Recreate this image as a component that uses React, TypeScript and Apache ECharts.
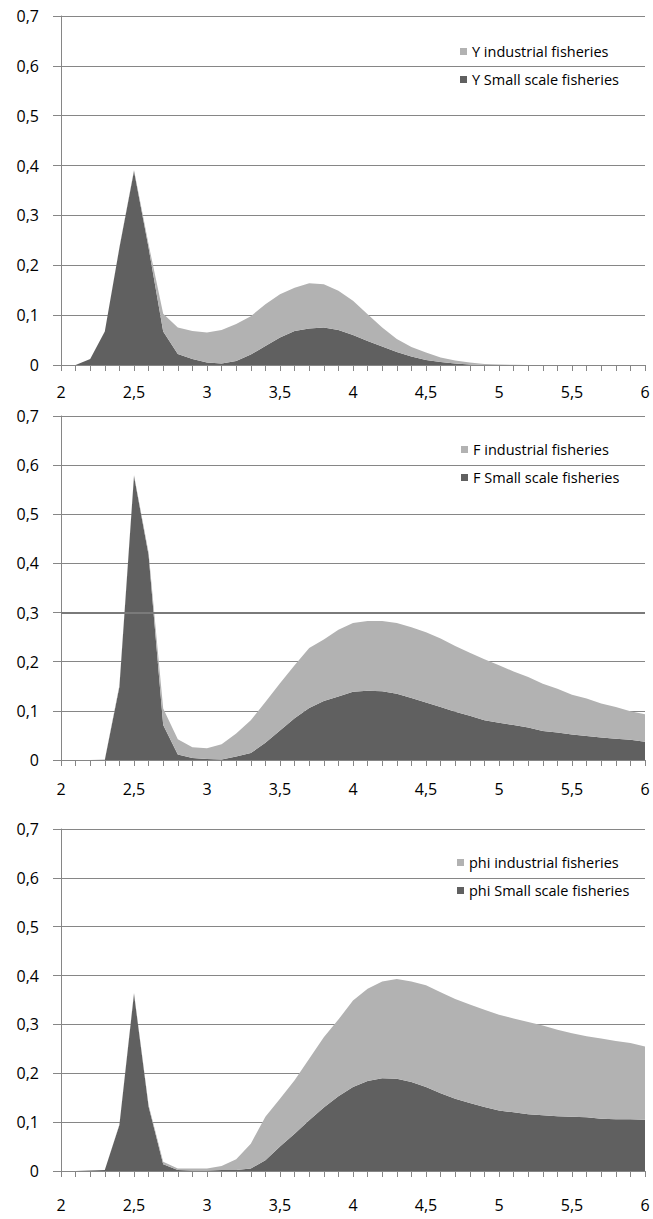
import React, { useEffect, useRef } from "react";
import * as echarts from "echarts";

const xCategories = [
  "2", "2,1", "2,2", "2,3", "2,4", "2,5", "2,6", "2,7", "2,8", "2,9",
  "3", "3,1", "3,2", "3,3", "3,4", "3,5", "3,6", "3,7", "3,8", "3,9",
  "4", "4,1", "4,2", "4,3", "4,4", "4,5", "4,6", "4,7", "4,8", "4,9",
  "5", "5,1", "5,2", "5,3", "5,4", "5,5", "5,6", "5,7", "5,8", "5,9",
  "6",
];

// Chart 1: Y
const ySmall = [
  0, 0, 0.012, 0.067, 0.235, 0.389, 0.235, 0.067, 0.022, 0.012,
  0.005, 0.003, 0.008, 0.021, 0.038, 0.055, 0.068, 0.073, 0.075, 0.07,
  0.06, 0.048, 0.037, 0.026, 0.017, 0.01, 0.006, 0.003, 0.001, 0,
  0, 0, 0, 0, 0, 0, 0, 0, 0, 0,
  0,
];
const yIndustrial = [
  0, 0, 0, 0, 0.001, 0.002, 0.007, 0.036, 0.053, 0.056,
  0.06, 0.067, 0.074, 0.077, 0.084, 0.087, 0.087, 0.091, 0.087, 0.079,
  0.069, 0.054, 0.038, 0.026, 0.019, 0.015, 0.009, 0.006, 0.004, 0.002,
  0.001, 0.0005, 0, 0, 0, 0, 0, 0, 0, 0,
  0,
];

// Chart 2: F
const fSmall = [
  0, 0, 0, 0, 0.149, 0.578, 0.417, 0.071, 0.011, 0.004,
  0.002, 0.001, 0.007, 0.014, 0.035, 0.06, 0.085, 0.106, 0.12, 0.129,
  0.139, 0.141, 0.14, 0.135, 0.126, 0.117, 0.108, 0.098, 0.09, 0.081,
  0.076, 0.071, 0.066, 0.059, 0.056, 0.052, 0.049, 0.046, 0.043, 0.041,
  0.037,
];
const fIndustrial = [
  0, 0, 0, 0.001, 0.003, 0.002, 0.005, 0.034, 0.031, 0.022,
  0.022, 0.031, 0.047, 0.067, 0.083, 0.096, 0.108, 0.122, 0.125, 0.136,
  0.14, 0.142, 0.143, 0.144, 0.144, 0.143, 0.139, 0.134, 0.128, 0.124,
  0.117, 0.109, 0.103, 0.096, 0.089, 0.081, 0.076, 0.069, 0.065, 0.058,
  0.056,
];

// Chart 3: phi
const phiSmall = [
  0, 0, 0.001, 0.002, 0.094, 0.363, 0.132, 0.014, 0.002, 0.001,
  0.001, 0.002, 0.002, 0.005, 0.022, 0.05, 0.076, 0.104, 0.13, 0.153,
  0.172, 0.184, 0.19, 0.189, 0.182, 0.172, 0.159, 0.148, 0.139, 0.131,
  0.124, 0.12, 0.116, 0.114, 0.112, 0.111, 0.11, 0.107, 0.106, 0.106,
  0.105,
];
const phiIndustrial = [
  0, 0, 0, 0, 0.001, 0.002, 0.003, 0.005, 0.003, 0.004,
  0.004, 0.008, 0.022, 0.051, 0.089, 0.098, 0.11, 0.126, 0.144, 0.157,
  0.177, 0.189, 0.198, 0.204, 0.206, 0.208, 0.207, 0.204, 0.202, 0.199,
  0.196, 0.192, 0.189, 0.184, 0.177, 0.171, 0.166, 0.164, 0.16, 0.156,
  0.15,
];

const panels = [
  { prefix: "Y", small: ySmall, industrial: yIndustrial },
  { prefix: "F", small: fSmall, industrial: fIndustrial },
  { prefix: "phi", small: phiSmall, industrial: phiIndustrial },
];

const gridTops = [16, 416, 829];
const gridHeights = [349, 344, 342];
const xLabelMargins = [19, 21, 26];
const legendTops = [44, 442, 855];
const legendLefts = [460, 461, 457];

const LIGHT = "#b2b2b2";
const DARK = "#606060";
const AXIS = "#868686";
const FONT = "'Open Sans', sans-serif";

export default function App() {
  const ref = useRef<HTMLDivElement>(null);

  useEffect(() => {
    document.body.style.margin = "0";
    if (!ref.current) return;
    const chart = echarts.init(ref.current, null, { renderer: "svg" });

    const grid = panels.map((_, i) => ({
      left: 61,
      width: 584,
      top: gridTops[i],
      height: gridHeights[i],
      containLabel: false,
    }));

    const xAxis = panels.map((_, i) => ({
      type: "category",
      gridIndex: i,
      data: xCategories,
      boundaryGap: false,
      axisLine: { show: true, lineStyle: { color: AXIS, width: 1 } },
      axisTick: { show: true, interval: 0, length: 6, lineStyle: { color: AXIS } },
      axisLabel: {
        interval: 4,
        color: "#000",
        fontSize: 16,
        fontFamily: FONT,
        margin: xLabelMargins[i],
      },
      splitLine: { show: false },
    }));

    const yAxis = panels.map((_, i) => ({
      type: "value",
      gridIndex: i,
      min: 0,
      max: 0.7,
      interval: 0.1,
      axisLine: { show: true, lineStyle: { color: AXIS, width: 1 } },
      axisTick: { show: true, length: 8, lineStyle: { color: AXIS } },
      axisLabel: {
        color: "#000",
        fontSize: 16,
        fontFamily: FONT,
        margin: 22,
        formatter: (v: number) => (v === 0 ? "0" : v.toFixed(1).replace(".", ",")),
      },
      splitLine: { show: true, lineStyle: { color: AXIS, width: 1 } },
    }));

    const legend = panels.map((p, i) => ({
      orient: "vertical",
      left: legendLefts[i],
      top: legendTops[i],
      padding: 0,
      itemWidth: 7,
      itemHeight: 7,
      itemGap: 13,
      icon: "rect",
      data: [`${p.prefix} industrial fisheries`, `${p.prefix} Small scale fisheries`],
      textStyle: { fontSize: 14.5, lineHeight: 15, fontFamily: FONT, color: "#000" },
    }));

    const series: any[] = [];
    panels.forEach((p, i) => {
      if (i === 1) {
        // the heavier 0,3 gridline of the middle panel, drawn behind the areas
        series.push({
          name: "gridline-0.3",
          type: "line",
          xAxisIndex: i,
          yAxisIndex: i,
          data: [],
          z: 1,
          silent: true,
          markLine: {
            silent: true,
            symbol: "none",
            label: { show: false },
            lineStyle: { color: "#7a7a7a", width: 2, type: "solid" },
            data: [{ yAxis: 0.3 }],
          },
        });
      }
      series.push({
        name: `${p.prefix} Small scale fisheries`,
        type: "line",
        xAxisIndex: i,
        yAxisIndex: i,
        stack: `s${i}`,
        data: p.small,
        symbol: "none",
        z: 3,
        color: DARK,
        itemStyle: { color: DARK },
        lineStyle: { width: 0 },
        areaStyle: { color: DARK, opacity: 1 },
      });
      series.push({
        name: `${p.prefix} industrial fisheries`,
        type: "line",
        xAxisIndex: i,
        yAxisIndex: i,
        stack: `s${i}`,
        data: p.industrial,
        symbol: "none",
        z: 3,
        color: LIGHT,
        itemStyle: { color: LIGHT },
        lineStyle: { width: 0 },
        areaStyle: { color: LIGHT, opacity: 1 },
      });
    });

    chart.setOption({
      animation: false,
      backgroundColor: "#fff",
      grid,
      xAxis,
      yAxis,
      legend,
      series,
    });

    return () => chart.dispose();
  }, []);

  return <div ref={ref} style={{ width: 653, height: 1219 }} />;
}
